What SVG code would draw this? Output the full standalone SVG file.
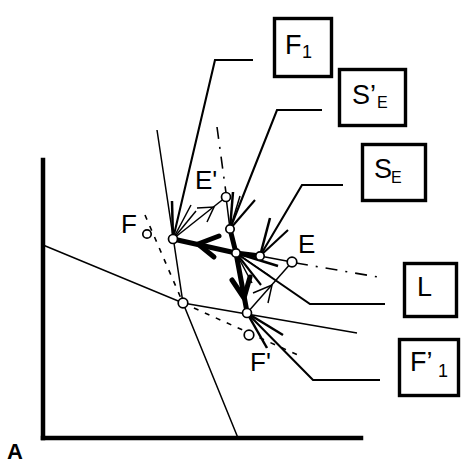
<svg xmlns="http://www.w3.org/2000/svg" width="462" height="465" viewBox="0 0 462 465">
<style>
.ax{stroke:#000;stroke-width:4.5;fill:none;stroke-linecap:square}
.ln{stroke:#000;stroke-width:1.5;fill:none}
.ld{stroke:#000;stroke-width:2.1;fill:none}
.th{stroke:#000;stroke-width:2.5;fill:none}
.tk{stroke:#000;stroke-width:5;fill:none;stroke-linecap:round;stroke-linejoin:round}
.ds{stroke:#000;stroke-width:1.6;fill:none;stroke-dasharray:5 7}
.dd{stroke:#000;stroke-width:1.6;fill:none;stroke-dasharray:12 8 2 8}
.pt{fill:#fff;stroke:#000;stroke-width:1.7}
.box{fill:#fff;stroke:#000;stroke-width:3.4}
text{font-family:"Liberation Sans",Arial,sans-serif;fill:#000}
.lb{font-size:26px}
.bl{font-size:27px}
.sb{font-size:16px}
</style>
<g id="axes">
<line class="ax" x1="43" y1="160" x2="43" y2="438"/>
<line class="ax" x1="43" y1="438" x2="361" y2="438"/>
<text x="7" y="459" style="font-size:22px;font-weight:bold">A</text>
</g>
<g id="connectors">
<polyline class="ln" points="43,245 183,303 357,333"/>
<polyline class="ln" points="157,130 183,303 238,438"/>
<line class="ds" x1="145" y1="215" x2="183" y2="303"/>
<line class="ds" x1="183" y1="303" x2="300" y2="356"/>
<line class="dd" x1="217" y1="127" x2="226" y2="193"/>
<line class="dd" x1="296" y1="263" x2="378" y2="277"/>
<polyline class="ld" points="173,239 215,60 253,60"/>
<polyline class="ld" points="230,229 277,110 322,110"/>
<polyline class="ld" points="260,256 302,185 343,185"/>
<polyline class="ld" points="236,253 310,304 385,304"/>
<polyline class="ld" points="247,313 313,380 380,380"/>
<line class="th" x1="173" y1="239" x2="172" y2="201"/>
<line class="ln" x1="173" y1="239" x2="191" y2="205"/>
<line class="ln" x1="173" y1="239" x2="196" y2="211"/>
<line class="ln" x1="173" y1="239" x2="226" y2="197"/>
<polyline class="ln" points="197,208 214,207 207,222"/>
<line class="ln" x1="226" y1="197" x2="230" y2="229"/>
<line class="th" x1="230" y1="229" x2="233" y2="192"/>
<line class="ln" x1="230" y1="229" x2="240" y2="196"/>
<line class="ld" x1="230" y1="229" x2="255" y2="200"/>
<line class="th" x1="260" y1="256" x2="270" y2="218"/>
<line class="ld" x1="260" y1="256" x2="288" y2="230"/>
<line class="ln" x1="260" y1="256" x2="292" y2="262"/>
<line class="th" x1="236" y1="253" x2="278" y2="266"/>
<line class="ln" x1="236" y1="253" x2="270" y2="276"/>
<line class="ld" x1="236" y1="253" x2="261" y2="285"/>
<line class="ln" x1="236" y1="253" x2="252" y2="283"/>
<polyline class="tk" points="230,229 236,253 260,256"/>
<line class="tk" x1="236" y1="253" x2="173" y2="239"/>
<polyline class="tk" points="219,236 198,244 214,257"/>
<line class="tk" x1="236" y1="253" x2="247" y2="312"/>
<polyline class="tk" points="232,280 244,298 250,277"/>
<line class="ln" x1="292" y1="262" x2="247" y2="313"/>
<polyline class="ln" points="253,293 272,285 268,303"/>
<line class="th" x1="247" y1="313" x2="283" y2="335"/>
<line class="th" x1="247" y1="313" x2="267" y2="348"/>
</g>
<g id="points">
<circle class="pt" cx="147" cy="234" r="4.2"/>
<circle class="pt" cx="173" cy="239" r="4.5"/>
<circle class="pt" cx="226" cy="197" r="4.5"/>
<circle class="pt" cx="230" cy="229" r="4.2"/>
<circle class="pt" cx="236" cy="253" r="4.2"/>
<circle class="pt" cx="260" cy="256" r="4.2"/>
<circle class="pt" cx="292" cy="262" r="4.8"/>
<circle class="pt" cx="183" cy="303" r="4.8"/>
<circle class="pt" cx="247" cy="313" r="4.5"/>
<circle class="pt" cx="249" cy="335" r="4.8"/>
</g>
<g id="labels">
<text class="lb" x="121" y="233">F</text>
<text class="lb" x="195" y="189">E'</text>
<text class="lb" x="298" y="253">E</text>
<text class="lb" x="250" y="371">F'</text>
</g>
<g id="box-F1">
<rect class="box" x="274.5" y="18.5" width="57" height="58"/>
<text class="bl" x="285" y="54">F</text>
<text x="302" y="58" style="font-size:18px">1</text>
</g>
<g id="box-SpE">
<rect class="box" x="339.5" y="69.5" width="66" height="56"/>
<text class="bl" x="352" y="104">S’</text>
<text class="sb" x="377" y="108">E</text>
</g>
<g id="box-SE">
<rect class="box" x="362.5" y="144.5" width="63" height="56"/>
<text class="bl" x="374" y="178">S</text>
<text class="sb" x="391" y="183">E</text>
</g>
<g id="box-L">
<rect class="box" x="404.5" y="263.5" width="52" height="53"/>
<text class="bl" x="417" y="296">L</text>
</g>
<g id="box-Fp1">
<rect class="box" x="399.5" y="339.5" width="59" height="56"/>
<text class="bl" x="410" y="371">F’</text>
<text x="438" y="377" style="font-size:18px">1</text>
</g>
</svg>
